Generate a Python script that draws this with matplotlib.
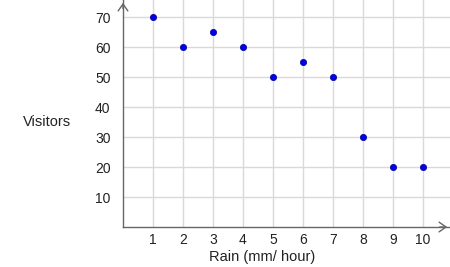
import matplotlib.pyplot as plt

rain = [1, 2, 3, 4, 5, 6, 7, 8, 9, 10]
visitors = [70, 60, 65, 60, 50, 55, 50, 30, 20, 20]
y_ticks = [10, 20, 30, 40, 50, 60, 70]

plt.rcParams['font.family'] = ['Liberation Sans', 'DejaVu Sans']

fig = plt.figure(figsize=(4.5, 2.67), dpi=100)
ax = fig.add_axes([123 / 450, 40 / 267, 327 / 450, 227 / 267])

ax.set_xlim(0, 10.9)
ax.set_ylim(0, 75.7)
ax.set_xticks(rain)
ax.set_yticks(y_ticks)
ax.grid(True, color='#d9d9d9', linewidth=1)
ax.set_axisbelow(True)

for s in ['top', 'right']:
    ax.spines[s].set_visible(False)
for s in ['left', 'bottom']:
    ax.spines[s].set_color('#666666')
    ax.spines[s].set_linewidth(1)

ax.tick_params(axis='both', length=0, labelsize=10, labelcolor='#222222')
ax.tick_params(axis='x', pad=4)
ax.tick_params(axis='y', pad=9)

# axis arrows (open chevrons)
arrow = dict(arrowstyle='->,head_length=0.5,head_width=0.35', color='#666666', lw=1)
ax.annotate('', xy=(1.0, 0), xytext=(0.96, 0), xycoords='axes fraction',
            arrowprops=arrow)
ax.annotate('', xy=(0, 1.0), xytext=(0, 0.95), xycoords='axes fraction',
            arrowprops=arrow)

ax.plot(rain, visitors, 'o', color='#0000ee', markeredgecolor='#00008b',
        markersize=4.5, markeredgewidth=0.5, clip_on=False, zorder=3)

fig.text(47 / 450, 1 - 122 / 267, 'Visitors', ha='center', va='center',
         fontsize=10.5, color='#222222')
fig.text(262 / 450, 1 - 257 / 267, 'Rain (mm/ hour)', ha='center', va='center',
         fontsize=10.5, color='#222222')

fig.savefig('out.png', dpi=100)
